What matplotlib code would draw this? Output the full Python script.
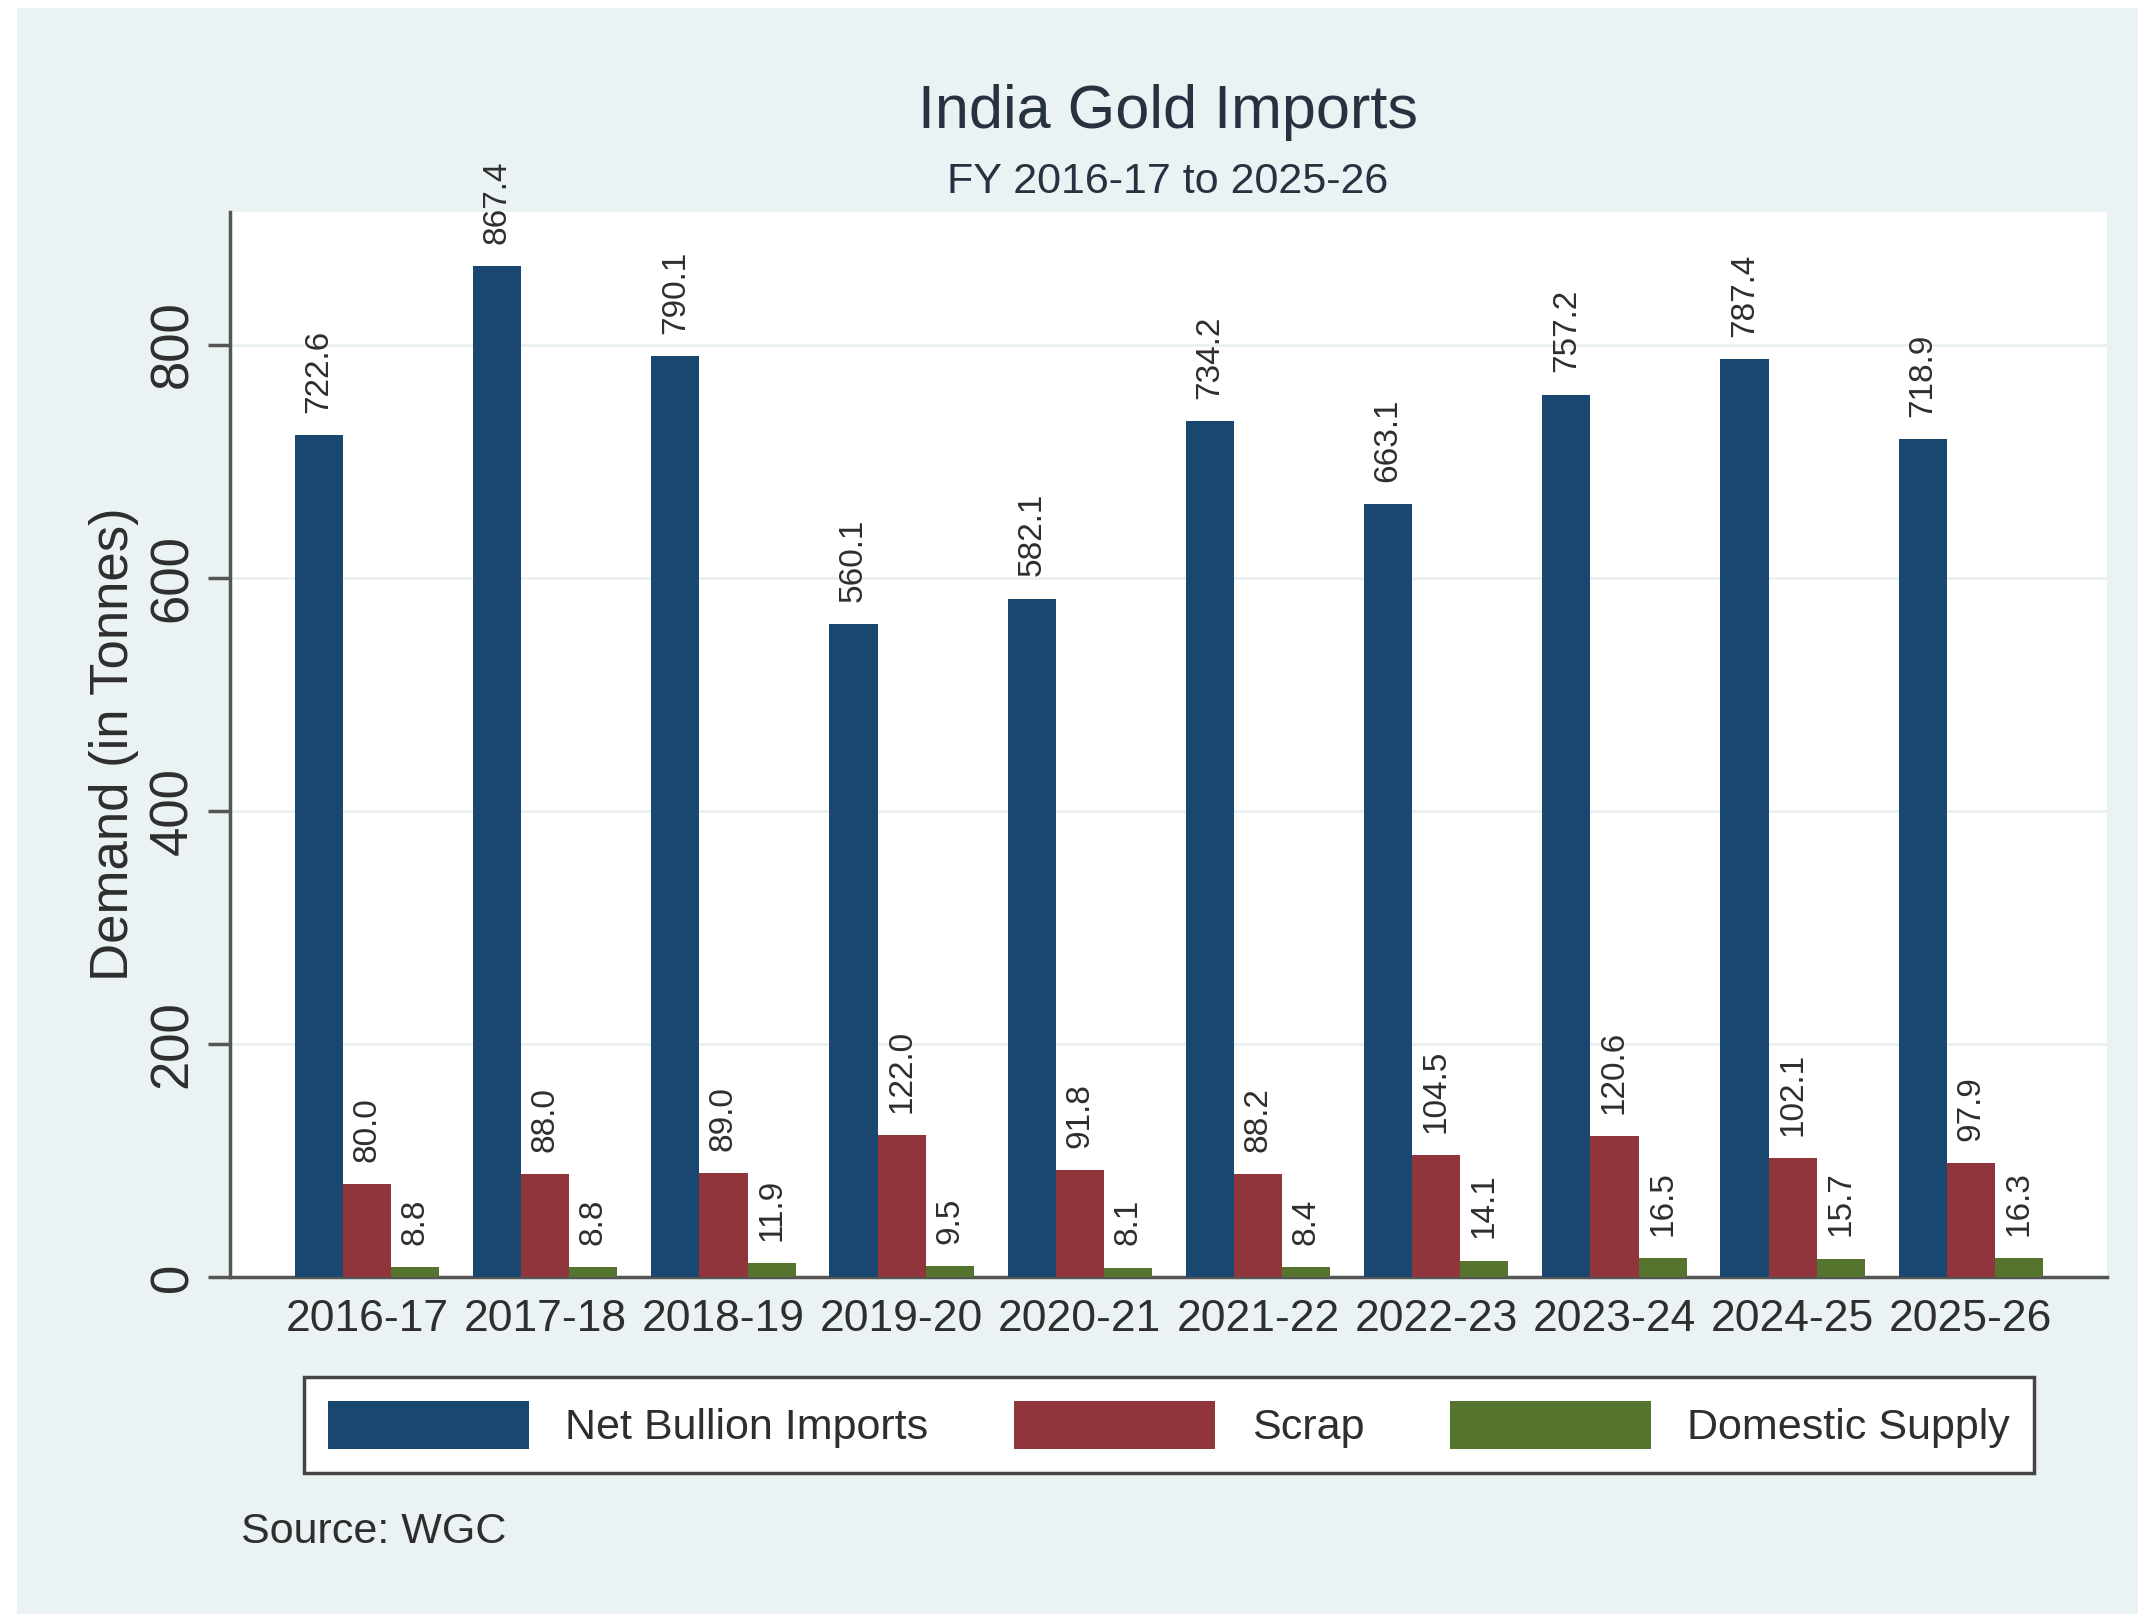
import numpy as np
import matplotlib
matplotlib.use("Agg")
import matplotlib.pyplot as plt
from matplotlib.patches import Rectangle

plt.rcParams['font.family'] = ['Liberation Sans', 'DejaVu Sans']

# Gold supply by financial year (tonnes)
years = ["2016-17", "2017-18", "2018-19", "2019-20", "2020-21",
         "2021-22", "2022-23", "2023-24", "2024-25", "2025-26"]
net_bullion = [722.6, 867.4, 790.1, 560.1, 582.1, 734.2, 663.1, 757.2, 787.4, 718.9]
scrap = [80.0, 88.0, 89.0, 122.0, 91.8, 88.2, 104.5, 120.6, 102.1, 97.9]
domestic = [8.8, 8.8, 11.9, 9.5, 8.1, 8.4, 14.1, 16.5, 15.7, 16.3]

series = [("Net Bullion Imports", net_bullion, "#1a476f"),
          ("Scrap", scrap, "#90353b"),
          ("Domestic Supply", domestic, "#55752f")]

bg = "#eaf2f3"
text_col = "#2e2e2e"
axis_col = "#555555"

fig = plt.figure(figsize=(21.38, 16.14), dpi=100, facecolor="white")
# graph region (leaves a thin white strip on the left and top)
fig.patches.append(Rectangle((17 / 2138, 0), 1, 1 - 8 / 1614,
                             transform=fig.transFigure, facecolor=bg,
                             edgecolor="none", zorder=-10))

ax = fig.add_axes([0.10758, 0.20880, 0.87792, 0.66000])
ax.set_facecolor("white")

x = np.arange(len(years))
w = 0.27
for k, (name, vals, col) in enumerate(series):
    bars = ax.bar(x + (k - 1) * w, vals, width=w, color=col, label=name,
                  edgecolor="none", zorder=3)
    ax.bar_label(bars, labels=[f"{v:.1f}" for v in vals], rotation=90,
                 padding=16, fontsize=24, color=text_col)

ax.set_xlim(-0.769, 9.764)
ax.set_ylim(0, 914)
ax.set_xticks(x)
ax.set_xticklabels(years, fontsize=32, color=text_col)
ax.set_yticks([0, 200, 400, 600, 800])
ax.set_yticklabels(["0", "200", "400", "600", "800"], rotation=90,
                   va="center", fontsize=38, color=text_col)
ax.tick_params(axis="x", length=0, pad=16)
ax.tick_params(axis="y", length=16, width=2.5, color=axis_col, pad=7)

ax.yaxis.grid(True, color="#e8eef0", linewidth=1.8, zorder=0)
ax.set_axisbelow(True)
for side in ["top", "right"]:
    ax.spines[side].set_visible(False)
for side in ["left", "bottom"]:
    ax.spines[side].set_color(axis_col)
    ax.spines[side].set_linewidth(2.5)

ax.set_ylabel("Demand (in Tonnes)", fontsize=38, color=text_col)
ax.yaxis.set_label_coords(-0.0485, 0.5)

fig.text(0.5463, 0.9207, "India Gold Imports", ha="center", va="baseline",
         fontsize=44, color="#26323f")
fig.text(0.5463, 0.8804, "FY 2016-17 to 2025-26", ha="center", va="baseline",
         fontsize=31, color="#26323f")

leg = ax.legend(loc="center", bbox_to_anchor=(0.5468, 0.1171),
                bbox_transform=fig.transFigure, ncol=3, fontsize=31,
                handlelength=4.67, handleheight=1.35, handletextpad=0.84,
                columnspacing=2.0, borderpad=0.56, fancybox=False,
                frameon=True, framealpha=1)
leg.get_frame().set_edgecolor("#444444")
leg.get_frame().set_linewidth(2.5)
leg.get_frame().set_facecolor("white")
for t in leg.get_texts():
    t.set_color(text_col)

fig.text(0.1127, 0.0440, "Source: WGC", ha="left", va="baseline",
         fontsize=31, color=text_col)

fig.savefig("out.png", dpi=100, facecolor=fig.get_facecolor())
